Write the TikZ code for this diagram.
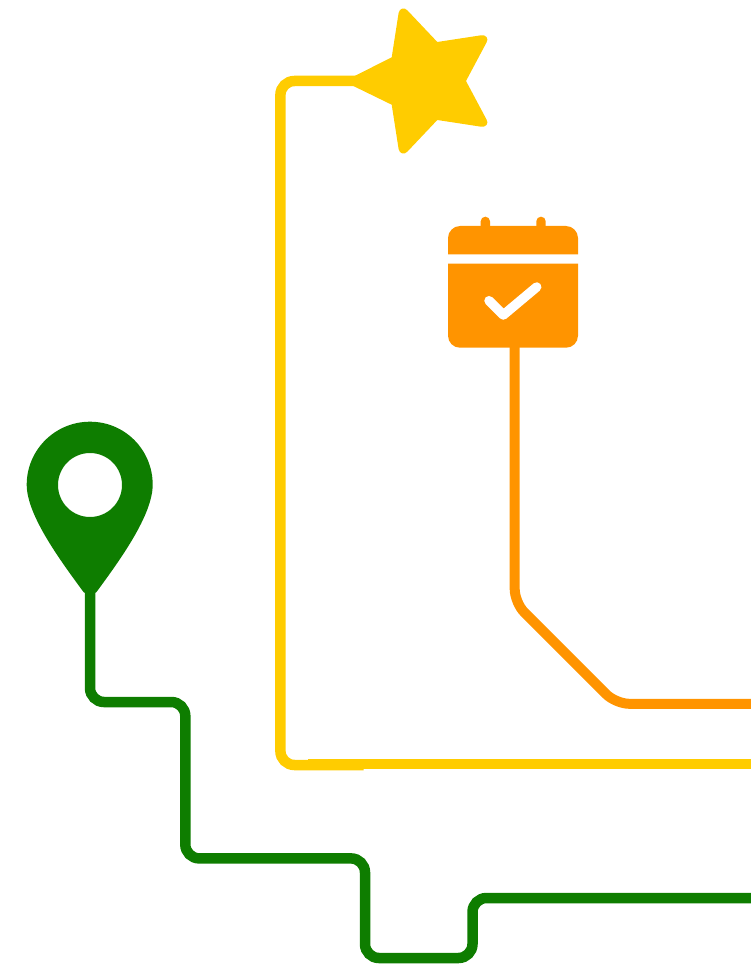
\documentclass[tikz,border=0pt]{standalone}
\definecolor{routegreen}{HTML}{0E7D00}
\definecolor{routeyellow}{HTML}{FFCC00}
\definecolor{routeorange}{HTML}{FF9400}
\tikzset{
  route/.style={line width=10.5pt,rounded corners=14pt,line cap=butt},
}
\begin{document}
\begin{tikzpicture}[x=1pt,y=-1pt]
\useasboundingbox (0,0) rectangle (751,965);
% named anchors
\coordinate (starleft) at (358,81);
\coordinate (calfoot) at (514.7,333);
\coordinate (pintip) at (90,588);
\coordinate (exitY) at (751,764);
\coordinate (exitO) at (751,703.8);
\coordinate (exitG) at (751,898);
\coordinate (ybreak) at (363.5,765);
\coordinate (ybreakb) at (308,764);
% yellow route
\draw[route,routeyellow] (starleft) -- (280.4,81) -- (280.4,765) -- (ybreak);
\draw[route,routeyellow,line width=10pt,rounded corners=0pt] (ybreakb) -- (exitY);
% star
\fill[routeyellow] (353.3,76.7) -- (391.7,57.3) -- (398.6,13)
  .. controls (399.5,8) and (404.5,7) .. (407.5,10.5)
  -- (437.3,42) -- (481,35.3)
  .. controls (486,34.5) and (489,38.5) .. (486.5,42.5)
  -- (466,81) -- (486.5,119.5)
  .. controls (489,123.5) and (486,127.5) .. (481,126.7)
  -- (437.3,120) -- (407.5,151.5)
  .. controls (404.5,155) and (399.5,154) .. (398.6,149)
  -- (391.7,104.7) -- (353.3,86) -- cycle;
% orange route
\draw[line width=10pt,routeorange,rounded corners=13.5pt] (calfoot) -- (514.7,602.7) -- (615.8,703.8) -- (exitO);
% calendar
\fill[routeorange,rounded corners=4.6pt] (480.7,235) -- (480.7,216.7) -- (490,216.7) -- (490,235) -- cycle;
\fill[routeorange,rounded corners=4.6pt] (536.3,235) -- (536.3,216.7) -- (545.7,216.7) -- (545.7,235) -- cycle;
\fill[routeorange] (448,254.3) -- (448,238)
  .. controls (448,231.5) and (453.5,226) .. (460,226)
  -- (566,226) .. controls (572.5,226) and (578,231.5) .. (578,238)
  -- (578,254.3) -- cycle;
\fill[routeorange] (448,263.7) -- (578,263.7) -- (578,335.7)
  .. controls (578,342.5) and (572.5,347.7) .. (566,347.7)
  -- (460,347.7) .. controls (453.5,347.7) and (448,342.5) .. (448,335.7) -- cycle;
\draw[white,line width=9.5pt,line cap=round,line join=round] (489,300.7) -- (503.3,315) -- (536.7,287);
% green route
\draw[route,routegreen] (pintip) -- (90,702) -- (185.3,702) -- (185.3,858.4) -- (365,858.4) -- (365,958) -- (472.5,958) -- (472.5,898) -- (exitG);
% pin
\fill[routegreen,even odd rule] (90,596)
  -- (83.5,592)
  .. controls (60,560) and (26.7,515) .. (26.7,484.7)
  .. controls (26.7,450) and (55,421.7) .. (90,421.7)
  .. controls (125,421.7) and (152.7,450) .. (152.7,484.7)
  .. controls (152.7,515) and (120,560) .. (96.5,592)
  -- cycle
  (122,485) arc[start angle=0,end angle=360,radius=32];
\end{tikzpicture}
\end{document}
